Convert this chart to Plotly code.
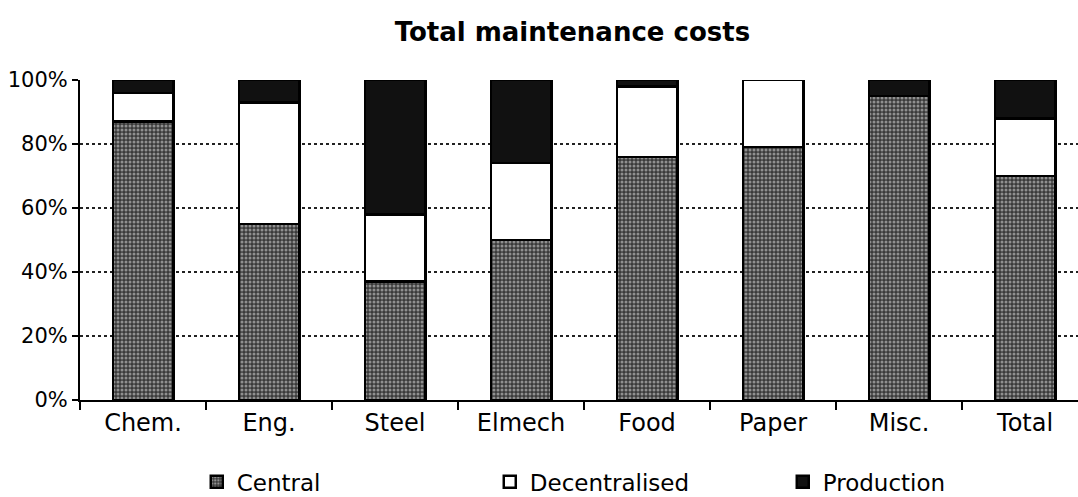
import plotly.graph_objects as go

categories = ["Chem.", "Eng.", "Steel", "Elmech", "Food", "Paper", "Misc.", "Total"]
central = [87, 55, 37, 50, 76, 79, 95, 70]
decentralised = [9, 38, 21, 24, 22, 21, 0, 18]
production = [4, 7, 42, 26, 2, 0, 5, 12]
y_ticks = [0, 20, 40, 60, 80, 100]
y_tick_labels = ["0%", "20%", "40%", "60%", "80%", "100%"]

FONT = "DejaVu Sans"
line = dict(color="black", width=2.5)

fig = go.Figure()
fig.add_trace(go.Bar(
    x=categories, y=central, name="Central",
    marker=dict(color="#444", line=line,
                pattern=dict(shape=".", size=4, solidity=0.45, fgcolor="#e6e6e6", bgcolor="#3a3a3a", fillmode="overlay")),
))
fig.add_trace(go.Bar(
    x=categories, y=decentralised, name="Decentralised",
    marker=dict(color="white", line=line),
))
fig.add_trace(go.Bar(
    x=categories, y=production, name="Production",
    marker=dict(color="#111", line=line),
))

fig.update_layout(
    barmode="stack",
    bargap=0.52,
    width=1078, height=497,
    margin=dict(l=80, r=0, t=80, b=97, autoexpand=False),
    paper_bgcolor="white", plot_bgcolor="white",
    font=dict(family=FONT, color="black"),
    title=dict(text="<b>Total maintenance costs</b>", x=0.531, xanchor="center", y=0.935, yanchor="middle",
               font=dict(family=FONT, size=26, color="black")),
    showlegend=True,
    legend=dict(orientation="h", x=0.117, y=-0.256, xanchor="left", yanchor="middle",
                font=dict(family=FONT, size=23), entrywidth=248, entrywidthmode="pixels",
                traceorder="normal"),
)
fig.update_xaxes(
    range=[-0.5, 7.42], showline=True, linecolor="black", linewidth=2,
    ticks="outside", tickson="boundaries", ticklen=8, tickwidth=2, tickcolor="black",
    tickfont=dict(family=FONT, size=24), showgrid=False, ticklabelstandoff=0,
)
fig.update_yaxes(
    range=[0, 100], tickvals=y_ticks, ticktext=y_tick_labels,
    showline=True, linecolor="black", linewidth=2,
    ticks="outside", ticklen=6, tickwidth=2, tickcolor="black",
    tickfont=dict(family=FONT, size=21), ticklabelstandoff=0,
    showgrid=True, gridcolor="#222", griddash="dot", gridwidth=1.5,
    zeroline=False,
)
fig.write_html("out.html")
